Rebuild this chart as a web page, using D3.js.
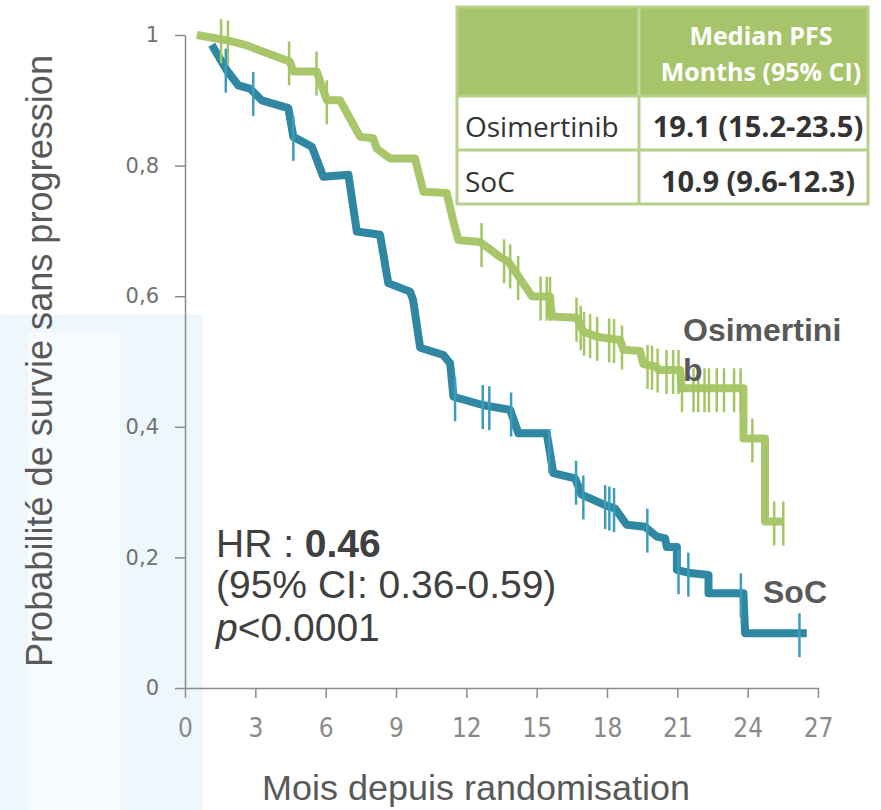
<!DOCTYPE html>
<html>
<head>
<meta charset="utf-8">
<script src="https://cdn.jsdelivr.net/npm/d3@7/dist/d3.min.js"></script>
<style>
  body { margin: 0; background: #fff; }
  svg { display: block; }
</style>
</head>
<body>
<div id="chart"></div>
<script>
// PFS curves: [months, probability]
var osiCurve = [[0.50,1.000],[1.78,0.992],[2.56,0.985],[4.48,0.959],[4.62,0.944],[5.62,0.944],[6.05,0.900],[6.61,0.900],
  [7.47,0.844],[8.03,0.842],[8.18,0.826],[8.75,0.811],[9.81,0.811],[10.17,0.760],[11.16,0.758],[11.45,0.714],[11.66,0.686],
  [12.59,0.683],[13.44,0.660],[13.79,0.653],[14.80,0.600],[15.57,0.599],[15.64,0.569],[16.71,0.567],[16.99,0.546],[17.56,0.538],
  [18.56,0.533],[18.70,0.518],[19.41,0.516],[19.55,0.496],[20.12,0.492],[20.19,0.487],[21.12,0.487],[21.19,0.459],[23.82,0.459],
  [23.82,0.382],[24.74,0.382],[24.74,0.255],[25.52,0.255]];

var socCurve = [[1.14,0.985],[1.78,0.946],[2.27,0.923],[2.77,0.918],[3.27,0.900],[4.41,0.888],[4.62,0.844],[5.41,0.829],
  [5.90,0.783],[6.97,0.786],[7.33,0.699],[8.32,0.694],[8.67,0.620],[9.60,0.607],[9.73,0.594],[10.03,0.521],[11.02,0.510],
  [11.31,0.497],[11.45,0.446],[12.73,0.433],[13.87,0.426],[14.22,0.390],[15.43,0.390],[15.71,0.329],[16.64,0.321],[16.92,0.296],
  [17.92,0.280],[18.34,0.275],[18.84,0.250],[19.62,0.247],[20.12,0.232],[20.48,0.229],[20.55,0.216],[20.98,0.216],[20.98,0.181],
  [21.54,0.176],[22.33,0.173],[22.33,0.145],[23.82,0.145],[23.89,0.084],[26.52,0.084]];

// censored patients (months)
var osiCensor = [1.54,1.83,4.44,5.61,6.05,12.65,13.61,13.87,14.21,15.17,15.43,15.57,16.70,16.88,17.02,17.28,17.58,18.09,18.30,
  18.64,19.73,19.92,20.16,20.54,20.82,21.05,21.20,21.69,21.89,22.16,22.35,22.68,22.99,23.42,23.70,24.20,25.13,25.52];
var socCensor = [1.74,2.91,4.62,11.52,12.70,12.98,13.91,15.54,16.68,16.99,17.92,18.10,18.30,19.72,21.05,21.47,23.71,26.21];

var xTicks = [0,3,6,9,12,15,18,21,24,27];
var yTicks = [0,0.2,0.4,0.6,0.8,1];
var yTickLabels = ["0","0,2","0,4","0,6","0,8","1"];

var tableHeader = ["Median PFS","Months (95% CI)"];
var tableArms = ["Osimertinib","SoC"];
var tableMedians = ["19.1 (15.2-23.5)","10.9 (9.6-12.3)"];

var width = 881, height = 810;
var margin = {top: 35, right: 63, bottom: 122, left: 185};

var svg = d3.select("#chart")
  .append("svg")
  .attr("width", width)
  .attr("height", height);

// faint background panels from the slide
svg.append("rect").attr("x", 0).attr("y", 315).attr("width", 203).attr("height", 495).attr("fill", "#eef7fc");
svg.append("rect").attr("x", 28).attr("y", 332).attr("width", 92).attr("height", 478).attr("fill", "#f8fbfe");

var x = d3.scaleLinear().domain([0, 27]).range([margin.left, width - margin.right]);
var y = d3.scaleLinear().domain([0, 1]).range([height - margin.bottom, margin.top]);

// axes
var xAxis = svg.append("g")
  .attr("transform", "translate(0," + y(0) + ")")
  .call(d3.axisBottom(x).tickValues(xTicks).tickSize(10).tickSizeOuter(0).tickPadding(21));
xAxis.selectAll("text")
  .attr("font-family", "'Liberation Sans Narrow', 'DejaVu Sans Condensed', sans-serif")
  .attr("font-size", 26)
  .attr("fill", "#8a8a8a");

var yAxis = svg.append("g")
  .attr("transform", "translate(" + x(0) + ",0)")
  .call(d3.axisLeft(y).tickValues(yTicks).tickSize(10).tickSizeOuter(0).tickPadding(16)
    .tickFormat(function(d, i) { return yTickLabels[i]; }));
yAxis.selectAll("text")
  .attr("font-family", "'DejaVu Sans', sans-serif")
  .attr("font-size", 21)
  .attr("fill", "#727272");

svg.selectAll(".domain, .tick line").attr("stroke", "#8c8c8c").attr("stroke-width", 1.5);

// axis titles
svg.append("text")
  .attr("x", 476).attr("y", 800)
  .attr("text-anchor", "middle")
  .attr("font-family", "'Liberation Sans', Arial, sans-serif")
  .attr("font-size", 35)
  .attr("fill", "#595959")
  .attr("textLength", 428).attr("lengthAdjust", "spacingAndGlyphs")
  .text("Mois depuis randomisation");

svg.append("text")
  .attr("transform", "translate(52,361) rotate(-90)")
  .attr("text-anchor", "middle")
  .attr("font-family", "'Liberation Sans', Arial, sans-serif")
  .attr("font-size", 36)
  .attr("fill", "#595959")
  .attr("textLength", 612).attr("lengthAdjust", "spacingAndGlyphs")
  .text("Probabilité de survie sans progression");

// value of a curve at time t (for placing censor marks)
function valueAt(curve, t) {
  if (t <= curve[0][0]) return curve[0][1];
  for (var i = 1; i < curve.length; i++) {
    if (t <= curve[i][0]) {
      var a = curve[i - 1], b = curve[i];
      if (b[0] === a[0]) return a[1];
      return a[1] + (b[1] - a[1]) * (t - a[0]) / (b[0] - a[0]);
    }
  }
  return curve[curve.length - 1][1];
}

var line = d3.line()
  .x(function(d) { return x(d[0]); })
  .y(function(d) { return y(d[1]); });

var arms = [
  {curve: osiCurve, censor: osiCensor, color: "#a9c66b", tick: "#a3c562"},
  {curve: socCurve, censor: socCensor, color: "#2f87a1", tick: "#3a9dbc"}
];

arms.forEach(function(arm) {
  svg.append("path")
    .datum(arm.curve)
    .attr("d", line)
    .attr("fill", "none")
    .attr("stroke", arm.color)
    .attr("stroke-width", 8)
    .attr("stroke-linejoin", "round");
});

arms.forEach(function(arm) {
  svg.append("g")
    .selectAll("line")
    .data(arm.censor)
    .enter()
    .append("line")
      .attr("x1", function(d) { return x(d); })
      .attr("x2", function(d) { return x(d); })
      .attr("y1", function(d) { return y(valueAt(arm.curve, d)) - 20; })
      .attr("y2", function(d) { return y(valueAt(arm.curve, d)) + 24; })
      .attr("stroke", arm.tick)
      .attr("stroke-width", 2.5);
});

// curve labels
var lab = svg.append("g")
  .attr("font-family", "'Liberation Sans', Arial, sans-serif")
  .attr("font-weight", "bold")
  .attr("font-size", 32)
  .attr("fill", "#595959");
lab.append("text").attr("x", 683).attr("y", 341).text("Osimertini");
lab.append("text").attr("x", 683).attr("y", 381).text("b");
lab.append("text").attr("x", 763).attr("y", 603).text("SoC");

// hazard ratio block
var hr = svg.append("g")
  .attr("font-family", "'Liberation Sans', Arial, sans-serif")
  .attr("font-size", 39)
  .attr("fill", "#404040");
var hr1 = hr.append("text").attr("x", 216).attr("y", 557);
hr1.append("tspan").text("HR : ");
hr1.append("tspan").attr("font-weight", "bold").text("0.46");
hr.append("text").attr("x", 216).attr("y", 598).text("(95% CI: 0.36-0.59)");
var hr3 = hr.append("text").attr("x", 216).attr("y", 641);
hr3.append("tspan").attr("font-style", "italic").text("p");
hr3.append("tspan").text("<0.0001");

// median PFS table
var tx0 = 457, tx1 = 639, tx2 = 868;
var rowY = [7, 96, 150, 204];
var table = svg.append("g");
table.append("rect")
  .attr("x", tx0).attr("y", rowY[0])
  .attr("width", tx2 - tx0).attr("height", rowY[1] - rowY[0])
  .attr("fill", "#a8c46b");
table.append("line")
  .attr("x1", tx1).attr("x2", tx1).attr("y1", rowY[0]).attr("y2", rowY[1])
  .attr("stroke", "#c4da9c").attr("stroke-width", 3);
table.append("line")
  .attr("x1", tx1).attr("x2", tx1).attr("y1", rowY[1]).attr("y2", rowY[3])
  .attr("stroke", "#b7d08a").attr("stroke-width", 3);
[rowY[1], rowY[2]].forEach(function(yy) {
  table.append("line")
    .attr("x1", tx0).attr("x2", tx2).attr("y1", yy).attr("y2", yy)
    .attr("stroke", "#b7d08a").attr("stroke-width", 3);
});
table.append("rect")
  .attr("x", tx0).attr("y", rowY[0])
  .attr("width", tx2 - tx0).attr("height", rowY[3] - rowY[0])
  .attr("fill", "none")
  .attr("stroke", "#b7d08a").attr("stroke-width", 3);

table.selectAll(".hdr")
  .data(tableHeader)
  .enter()
  .append("text")
    .attr("x", 761)
    .attr("y", function(d, i) { return 45 + i * 36; })
    .attr("text-anchor", "middle")
    .attr("font-family", "'Open Sans', sans-serif")
    .attr("font-weight", "bold")
    .attr("font-size", 25)
    .attr("fill", "#fff")
    .text(function(d) { return d; });

table.selectAll(".arm")
  .data(tableArms)
  .enter()
  .append("text")
    .attr("x", 465)
    .attr("y", function(d, i) { return 137 + i * 55; })
    .attr("font-family", "'Open Sans', sans-serif")
    .attr("font-size", 28)
    .attr("fill", "#333")
    .text(function(d) { return d; });

table.selectAll(".med")
  .data(tableMedians)
  .enter()
  .append("text")
    .attr("x", 758)
    .attr("y", function(d, i) { return 137 + i * 55; })
    .attr("text-anchor", "middle")
    .attr("font-family", "'Open Sans', sans-serif")
    .attr("font-weight", "bold")
    .attr("font-size", 29)
    .attr("fill", "#333")
    .text(function(d) { return d; });
</script>
</body>
</html>
